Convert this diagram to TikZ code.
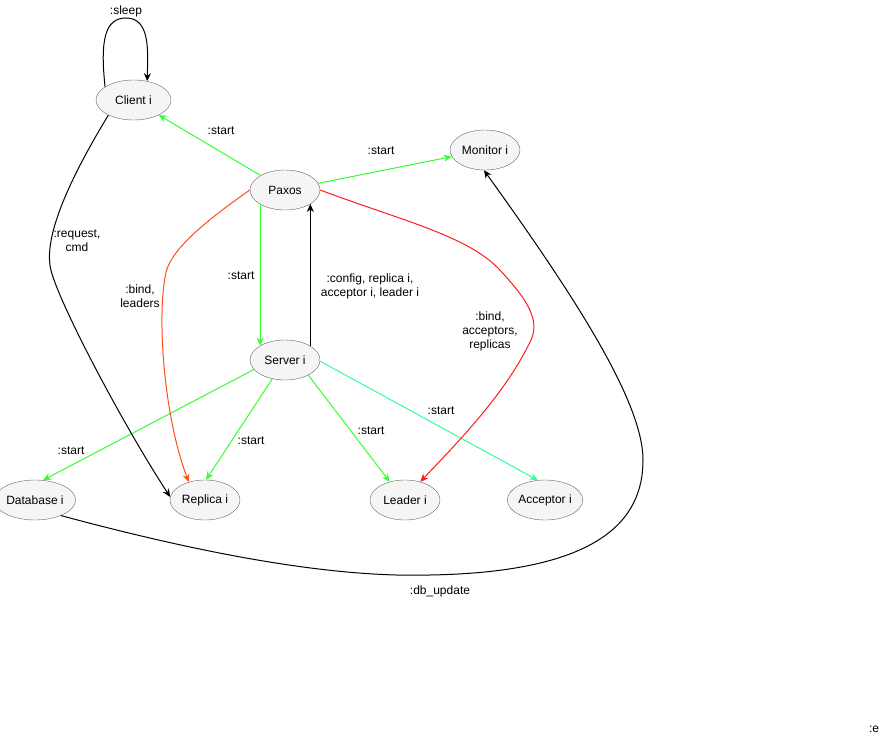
\documentclass[tikz,border=0pt]{standalone}
\usepackage{fontspec}
\setmainfont{Liberation Sans}
\usepackage{tikz}
\usetikzlibrary{arrows.meta,shapes.geometric,positioning,calc}
\usepackage{xcolor}
\definecolor{startgreen}{HTML}{33FF33}
\definecolor{startmint}{HTML}{33FF99}
\definecolor{bindorange}{HTML}{FF4D1A}
\definecolor{bindred}{HTML}{FF1A1A}
\definecolor{nodefill}{HTML}{F5F5F5}
\definecolor{nodeline}{HTML}{666666}

\begin{document}
\begin{tikzpicture}[x=1pt,y=-1pt,
    actor/.style={ellipse, draw=nodeline, fill=nodefill, minimum width=70pt, minimum height=40pt, inner sep=0pt, font=\fontsize{12}{14}\selectfont},
    lbl/.style={align=center, inner sep=0pt, font=\fontsize{12}{14}\selectfont},
    msg/.style={-{Stealth[length=8pt,width=7pt,inset=2.5pt]}, line width=1pt},
    start/.style={msg, draw=startgreen}]
    \useasboundingbox (0,0) rectangle (884,736);

    % Draw processes
    \node[actor, minimum width=75pt] (client) at (133.5,100) {Client i};
    \node[actor] (paxos) at (285,190) {Paxos};
    \node[actor] (monitor) at (485,150) {Monitor i};
    \node[actor] (server) at (285,360) {Server i};
    \node[actor] (db) at (35,500) {Database i};
    \node[actor] (replica) at (205,500) {Replica i};
    \node[actor] (leader) at (405,500) {Leader i};
    \node[actor] (acceptor) at (545,500) {Acceptor i};

    % Paxos starts everything
    \draw[start] (paxos) -- (client);
    \draw[start] (paxos) -- (monitor);
    \draw[start] (paxos.210) -- (server.150);
    \draw[msg] (server.29) -- (paxos.331);

    % Server starts its children
    \draw[start] (server.197) -- (db.68);
    \draw[start] (server.236) -- (replica.87);
    \draw[start] (server.327) -- (leader.130);
    \draw[start, draw=startmint] (server.358) -- (acceptor.110);

    % Bind messages
    \draw[msg, draw=bindorange] (paxos.west) .. controls (200,225) and (172,250) .. (166,272)
        .. controls (156,320) and (165,420) .. (replica.132);
    \draw[msg, draw=bindred] (paxos.east) .. controls (400,220) and (465,235) .. (498,268)
        .. controls (528,300) and (540,320) .. (531,340)
        .. controls (505,395) and (455,445) .. (leader.50);

    % Client requests and sleep
    \draw[msg] (client.155) .. controls (100,40) and (105,18) .. (126,18)
        .. controls (150,18) and (148,50) .. (client.54);
    \draw[msg] (client.211) .. controls (75,170) and (45,230) .. (50,265)
        .. controls (52,290) and (120,420) .. (replica.175);

    % Database updates the monitor
    \draw[msg] (db.329) .. controls (200,553) and (330,578) .. (430,575)
        .. controls (600,572) and (643,520) .. (643,460)
        .. controls (643,400) and (570,290) .. (monitor.267);

    % Labels
    \node[lbl] (lsleep) at (126,11) {:sleep};
    \node[lbl] (lclient) at (221,131) {:start};
    \node[lbl] (lmonitor) at (381,151) {:start};
    \node[lbl] (lrequest) at (77,241) {:request,\\cmd};
    \node[lbl] (lserver) at (241,276) {:start};
    \node[lbl] (lbindl) at (140,296) {:bind,\\leaders};
    \node[lbl] (lconfig) at (370,286) {:config, replica i,\\acceptor i, leader i};
    \node[lbl] (lbinda) at (490,331) {:bind,\\acceptors,\\replicas};
    \node[lbl] (lacceptor) at (441,411) {:start};
    \node[lbl] (lleader) at (371,431) {:start};
    \node[lbl] (lreplica) at (251,441) {:start};
    \node[lbl] (ldb) at (71,451) {:start};
    \node[lbl] (lupdate) at (440,591) {:db\_update};
    \node[lbl] (le) at (874,729) {:e};
\end{tikzpicture}
\end{document}
